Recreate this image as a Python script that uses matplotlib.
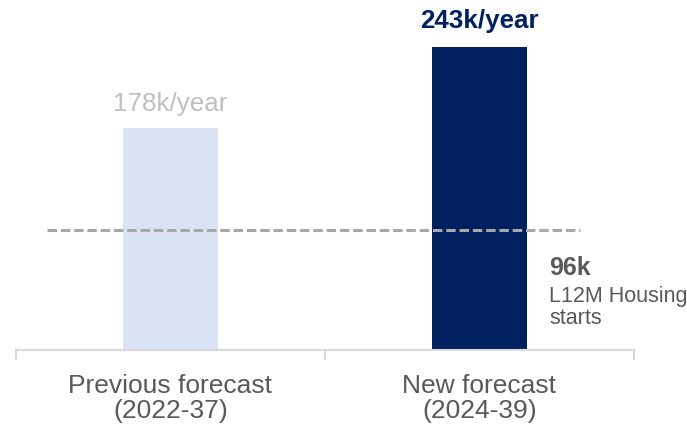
import numpy as np
import matplotlib.pyplot as plt

plt.rcParams['font.family'] = ['Liberation Sans', 'DejaVu Sans']

# forecast values (k homes per year)
categories = ['Previous forecast\n(2022-37)', 'New forecast\n(2024-39)']
values = [178, 243]
value_labels = ['178k/year', '243k/year']
housing_starts = 96

bar_colors = ['#dae3f3', '#002060']
label_colors = ['#bfbfbf', '#002060']
label_weights = ['normal', 'bold']
label_offsets = [12, 13.5]
grey = '#595959'

fig = plt.figure(figsize=(6.87, 4.28), dpi=100, facecolor='white')
ax = fig.add_axes([16/687, 78/428, 618/687, 350/428])

x = np.arange(len(categories))
bars = ax.bar(x, values, width=0.31, color=bar_colors, zorder=2)
ax.set_xlim(-0.5, 1.5)
ax.set_ylim(0, 350/1.247)

for xi, v, lab, c, w, off in zip(x, values, value_labels, label_colors, label_weights, label_offsets):
	ax.annotate(lab, xy=(xi, v), xytext=(0, off), textcoords='offset points',
				ha='center', va='baseline', fontsize=18.7, color=c, fontweight=w)

# last twelve months housing starts
ax.plot([-0.4, 1.325], [housing_starts, housing_starts], color='#a8a8a8',
		linewidth=2.2, dashes=(3.1, 1.25), zorder=3)
ax.annotate('%dk' % housing_starts, xy=(1.225, housing_starts), xytext=(0, -32.5),
			textcoords='offset points', ha='left', va='baseline',
			fontsize=18, fontweight='bold', color=grey)
ax.annotate('L12M Housing', xy=(1.225, housing_starts), xytext=(0, -51.5),
			textcoords='offset points', ha='left', va='baseline',
			fontsize=15.5, color=grey)
ax.annotate('starts', xy=(1.225, housing_starts), xytext=(0, -67.5),
			textcoords='offset points', ha='left', va='baseline',
			fontsize=15.5, color=grey)

for s in ['top', 'right', 'left']:
	ax.spines[s].set_visible(False)
ax.spines['bottom'].set_color('#d9d9d9')
ax.spines['bottom'].set_linewidth(1.5)
ax.set_yticks([])
ax.set_xticks(x)
ax.set_xticklabels(categories, fontsize=19, color=grey, linespacing=1.07)
ax.tick_params(axis='x', which='major', length=0, pad=17)
ax.set_xticks([-0.5, 0.5, 1.5], minor=True)
ax.tick_params(axis='x', which='minor', length=7.5, width=1.5, color='#d9d9d9')

plt.savefig('out.png', dpi=100, facecolor='white')
